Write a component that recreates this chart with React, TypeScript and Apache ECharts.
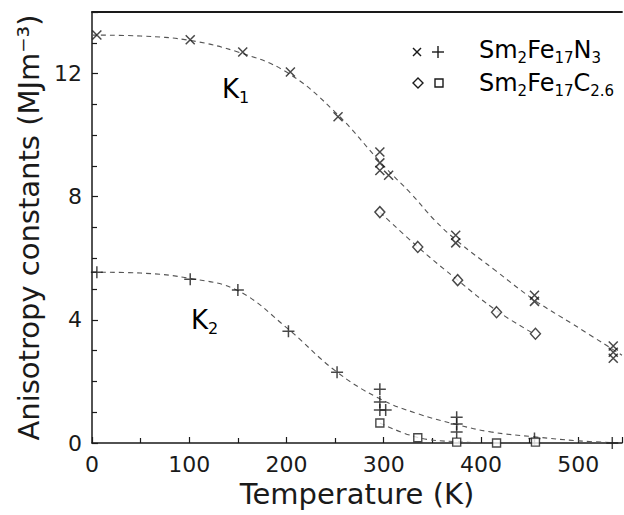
import React, { useEffect, useRef } from "react";
import * as echarts from "echarts";

// ---- data ----
const xTickValues = [0, 100, 200, 300, 400, 500];
const yTickValues = [0, 4, 8, 12];

// K1 of Sm2Fe17N3 (x markers)
const k1N3Points: [number, number][] = [
  [5, 13.25], [101, 13.1], [155, 12.7], [204, 12.05], [253, 10.6],
  [296, 9.45], [296, 9.1], [296, 8.85], [305, 8.7],
  [374, 6.75], [374, 6.5], [455, 4.8], [455, 4.6],
  [536, 3.15], [536, 2.95], [536, 2.75],
];
// K1 of Sm2Fe17C2.6 (diamonds)
const k1CPoints: [number, number][] = [
  [296, 7.5], [335, 6.37], [376, 5.29], [416, 4.25], [456, 3.55],
];
// K2 of Sm2Fe17N3 (+ markers)
const k2N3Points: [number, number][] = [
  [5, 5.55], [101, 5.32], [150, 4.97], [202, 3.63], [252, 2.3],
  [296, 1.75], [296, 1.33], [296, 1.07], [302, 1.07],
  [375, 0.84], [375, 0.62], [375, 0.36], [455, 0.15], [535, 0.0],
];
// K2 of Sm2Fe17C2.6 (squares)
const k2CPoints: [number, number][] = [
  [296, 0.65], [335, 0.17], [375, 0.03], [416, 0.0], [456, 0.03],
];

// dashed guide curves
const k1N3Curve: [number, number][] = [
  [0, 13.25], [50, 13.22], [100, 13.08], [150, 12.7], [200, 12.05],
  [250, 10.75], [300, 9.0], [328, 8.1], [352, 7.25], [376, 6.55],
  [415, 5.6], [455, 4.64], [495, 3.85], [545, 2.85],
];
const k1CCurve: [number, number][] = [
  [296, 7.5], [335, 6.37], [376, 5.29], [416, 4.3], [456, 3.52],
];
const k2N3Curve: [number, number][] = [
  [0, 5.55], [50, 5.52], [100, 5.35], [150, 4.95], [200, 3.75],
  [250, 2.35], [295, 1.45], [335, 0.95], [375, 0.6], [410, 0.36],
  [455, 0.2], [500, 0.07], [545, 0.0],
];
const k2CCurve: [number, number][] = [
  [296, 0.65], [335, 0.18], [375, 0.04], [416, 0.0], [456, 0.0],
];

const FONT = "DejaVu Sans";
const INK = "#1a1a1a";
const CROSS = "path://M0,0L10,10M10,0L0,10";
const PLUS = "path://M5,0L5,10M0,5L10,5";

export default function App() {
  const ref = useRef<HTMLDivElement>(null);
  useEffect(() => {
    if (!ref.current) return;
    const chart = echarts.init(ref.current, null, { renderer: "svg" });

    const curve = (data: [number, number][]) => ({
      type: "line",
      data,
      smooth: 0.4,
      symbol: "none",
      silent: true,
      lineStyle: { color: "#555", width: 1.1, type: [5, 4] },
      z: 1,
    });
    const markStyle = { color: "transparent", borderColor: INK, borderWidth: 1.5 };

    const subRich = (main: number, sub: number) => ({
      a: { fontSize: main, fontFamily: FONT, color: INK, lineHeight: main + 6 },
      s: { fontSize: sub, fontFamily: FONT, color: INK, lineHeight: sub, verticalAlign: "bottom" },
    });

    const option: any = {
      animation: false,
      backgroundColor: "#ffffff",
      grid: { left: 92, top: 12, right: 2, bottom: 72, containLabel: false },
      xAxis: [
        {
          type: "value",
          min: 0,
          max: 545,
          interval: 100,
          name: "Temperature (K)",
          nameLocation: "middle",
          nameGap: 32,
          nameTextStyle: { fontFamily: FONT, fontSize: 29, color: INK },
          axisLine: { show: true, lineStyle: { color: INK, width: 1.5 } },
          axisTick: { show: true, inside: true, length: 6, lineStyle: { color: INK, width: 1.2 } },
          minorTick: { show: true, splitNumber: 2, length: 5, lineStyle: { color: INK, width: 1.2 } },
          splitLine: { show: false },
          axisLabel: {
            fontFamily: FONT, fontSize: 22, color: INK, margin: 10,
            showMaxLabel: false,
            formatter: (v: number) => (xTickValues.includes(v) ? String(v) : ""),
          },
        },
        {
          type: "value",
          position: "top",
          min: 0,
          max: 545,
          axisLine: { show: true, onZero: false, lineStyle: { color: INK, width: 1.8 } },
          axisTick: { show: false },
          axisLabel: { show: false },
          splitLine: { show: false },
        },
      ],
      yAxis: {
        type: "value",
        min: 0,
        max: 14,
        interval: 4,
        name: "Anisotropy constants (MJm⁻³)",
        nameLocation: "middle",
        nameGap: 47,
        nameTextStyle: { fontFamily: FONT, fontSize: 29, color: INK },
        axisLine: { show: true, lineStyle: { color: INK, width: 1.5 } },
        axisTick: { show: true, inside: true, length: 6, lineStyle: { color: INK, width: 1.2 } },
        minorTick: { show: true, splitNumber: 4, length: 5, lineStyle: { color: INK, width: 1.2 } },
        splitLine: { show: false },
        axisLabel: {
          fontFamily: FONT, fontSize: 22, color: INK, margin: 10,
          showMaxLabel: false,
          formatter: (v: number) => (yTickValues.includes(v) ? String(v) : ""),
        },
      },
      series: [
        curve(k1N3Curve),
        curve(k1CCurve),
        curve(k2N3Curve),
        curve(k2CCurve),
        { type: "scatter", data: k1N3Points, symbol: CROSS, symbolSize: 9, itemStyle: markStyle, z: 3 },
        { type: "scatter", data: k1CPoints, symbol: "diamond", symbolSize: [10, 11], itemStyle: { color: "#fff", borderColor: INK, borderWidth: 1.4 }, z: 3 },
        { type: "scatter", data: k2N3Points, symbol: PLUS, symbolSize: 12, itemStyle: markStyle, z: 3 },
        { type: "scatter", data: k2CPoints, symbol: "rect", symbolSize: 8, itemStyle: { color: "#fff", borderColor: INK, borderWidth: 1.4 }, z: 3 },
      ],
      graphic: [
        // legend row 1
        { type: "line", shape: { x1: 413, y1: 48, x2: 421, y2: 56 }, style: { stroke: INK, lineWidth: 1.4 } },
        { type: "line", shape: { x1: 421, y1: 48, x2: 413, y2: 56 }, style: { stroke: INK, lineWidth: 1.4 } },
        { type: "line", shape: { x1: 438, y1: 46, x2: 438, y2: 58 }, style: { stroke: INK, lineWidth: 1.4 } },
        { type: "line", shape: { x1: 432, y1: 52, x2: 444, y2: 52 }, style: { stroke: INK, lineWidth: 1.4 } },
        {
          type: "text", x: 479, y: 50,
          style: {
            text: "{a|Sm}{s|2}{a|Fe}{s|17}{a|N}{s|3}",
            rich: subRich(24, 15), verticalAlign: "middle", align: "left",
          },
        },
        // legend row 2
        { type: "polygon", shape: { points: [[418, 78], [423, 83], [418, 88], [413, 83]] }, style: { fill: "#fff", stroke: INK, lineWidth: 1.4 } },
        { type: "rect", shape: { x: 435, y: 79, width: 8, height: 8 }, style: { fill: "#fff", stroke: INK, lineWidth: 1.4 } },
        {
          type: "text", x: 479, y: 83,
          style: {
            text: "{a|Sm}{s|2}{a|Fe}{s|17}{a|C}{s|2.6}",
            rich: subRich(24, 15), verticalAlign: "middle", align: "left",
          },
        },
        // curve labels
        {
          type: "text", x: 222, y: 89,
          style: { text: "{a|K}{s|1}", rich: subRich(26, 16), verticalAlign: "middle", align: "left" },
        },
        {
          type: "text", x: 191, y: 320,
          style: { text: "{a|K}{s|2}", rich: subRich(26, 16), verticalAlign: "middle", align: "left" },
        },
      ],
    };
    chart.setOption(option);
    return () => chart.dispose();
  }, []);
  return (
    <div
      ref={ref}
      style={{ position: "fixed", left: 0, top: 0, width: 624, height: 515, background: "#fff" }}
    />
  );
}
